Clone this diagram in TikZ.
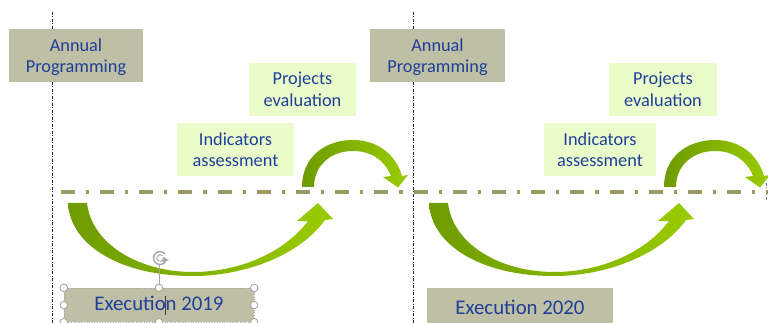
\documentclass[tikz,border=0pt]{standalone}
\usepackage{fontspec}
\setmainfont{Carlito}
\definecolor{txtblue}{HTML}{1F3F99}
\definecolor{boxgrey}{HTML}{BEBFA5}
\definecolor{boxlight}{HTML}{EBFCCB}
\definecolor{lineolive}{HTML}{999966}
\definecolor{gdark}{HTML}{6E9B00}
\definecolor{glight}{HTML}{9ACC00}
\definecolor{handlegrey}{HTML}{A6A6A6}
\newcommand\toppad{\rule{0pt}{16pt}}
\begin{document}
\begin{tikzpicture}[x=1pt,y=-1pt,
  greybox/.style={rectangle, fill=boxgrey, inner sep=0pt, align=center, text=txtblue, font=\fontsize{18.3}{21.5}\selectfont},
  lightbox/.style={rectangle, fill=boxlight, inner sep=0pt, align=center, text=txtblue, font=\fontsize{18.3}{21.5}\selectfont},
  execbox/.style={rectangle, fill=boxgrey, inner sep=0pt, text=txtblue, font=\fontsize{20.8}{24}\selectfont},
  yearline/.style={draw=black!85, line width=0.8pt, dash pattern=on 3pt off 1.5pt on 1pt off 1.5pt},
  timeline/.style={draw=lineolive, line width=4.3pt, dash pattern=on 14pt off 11pt on 3.3pt off 10.9pt},
  handle/.style={circle, draw=handlegrey, fill=white, line width=0.9pt, minimum size=7.5pt, inner sep=0pt},
  arrowfill/.style={left color=gdark, right color=glight, draw=none}
]
\useasboundingbox (0,0) rectangle (768,323);
\clip (0,0) rectangle (768,323);
\fill[white] (0,0) rectangle (768,323);

% year separators
\coordinate (v1t) at (52.3,12);
\coordinate (v1b) at (52.3,330);
\coordinate (v2t) at (413.3,12);
\coordinate (v2b) at (413.3,330);
\draw[yearline] (v1t) -- (v1b);
\draw[yearline] (v2t) -- (v2b);
\coordinate (v3t) at (766,183);
\coordinate (v3b) at (766,200);
\draw[yearline, draw=gray] (v3t) -- (v3b);

% time line
\coordinate (h0) at (60.7,191.7);
\coordinate (h1) at (800,191.7);
\draw[timeline] (h0) -- (h1);

% arrows
\foreach \dx/\ds in {0/0, 361/362}{
  \begin{scope}[xshift=\dx pt]
    \shade[arrowfill] (68,203) -- (87,203)
      .. controls (92,245) and (140,272) .. (193,272)
      .. controls (240,272) and (285,252) .. (308,221)
      -- (297,221) -- (318,203) -- (333,219) -- (325,220)
      .. controls (300,255) and (245,276) .. (193,276)
      .. controls (120,276) and (70,245) .. (68,203) -- cycle;
  \end{scope}
  \begin{scope}[xshift=\ds pt]
    \shade[arrowfill] (302,187)
      .. controls (302,157) and (325,140) .. (353,140)
      .. controls (378,140) and (396,155) .. (402,176)
      -- (408,175) -- (398,187.5) -- (383,177) -- (391,176)
      .. controls (385,161) and (372,151) .. (353,151)
      .. controls (330,151) and (314,166) .. (314,187) -- cycle;
  \end{scope}
}

% boxes
\node[greybox, minimum width=134pt, minimum height=53pt] (ap1) at (76,55.5) {\toppad Annual\\Programming};
\node[greybox, minimum width=135pt, minimum height=53pt] (ap2) at (437.5,55.5) {\toppad Annual\\Programming};
\node[lightbox, minimum width=107pt, minimum height=53pt] (pe1) at (302.5,89.5) {Projects\\evaluation};
\node[lightbox, minimum width=117pt, minimum height=53pt] (ia1) at (235.5,149.5) {Indicators\\assessment};
\node[lightbox, minimum width=108pt, minimum height=53pt] (pe2) at (663,89.5) {Projects\\evaluation};
\node[lightbox, minimum width=112pt, minimum height=53pt] (ia2) at (600,149.5) {Indicators\\assessment};
\node[execbox, minimum width=190pt, minimum height=34pt] (ex1) at (159,305) {\raisebox{-1.5pt}{Executio\makebox[0pt]{\color{black!75}\rule[-4pt]{0.8pt}{19pt}}n 2019}};
\node[execbox, minimum width=186pt, minimum height=38pt] (ex2) at (520,307) {Execution 2020};

% selection frame of the 2019 box
\draw[handlegrey, dotted, line width=0.6pt] (ex1.north west) rectangle (ex1.south east);
\coordinate (rotb) at (159,265);
\coordinate (rot) at (160,258);
\draw[handlegrey, line width=0.9pt] (ex1.north) -- (rotb);
\draw[handlegrey, line width=1.4pt] (rot) ++(30:6.5) arc[start angle=30, end angle=320, radius=6.5];
\draw[handlegrey, line width=0.9pt] (rot) ++(30:3.3) arc[start angle=30, end angle=320, radius=3.3];
\fill[handlegrey] (rot) ++(340:3.5) -- ++(-1,5.5) -- ++(6.5,-2) -- cycle;
\foreach \a in {north west, north, north east, west, east, south west, south, south east}{
  \node[handle] at (ex1.\a) {};
}
\end{tikzpicture}
\end{document}
